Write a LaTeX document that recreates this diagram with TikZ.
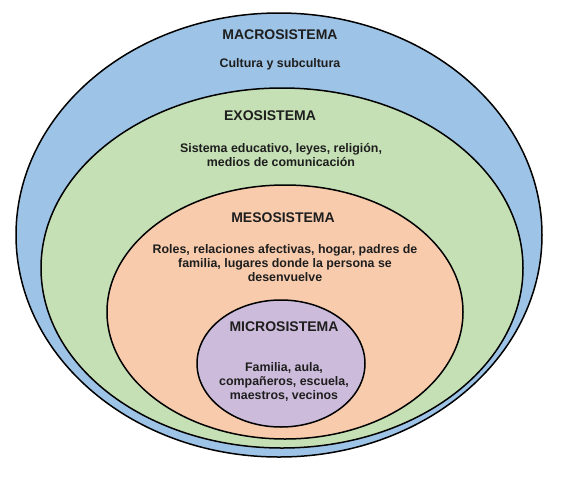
\documentclass[tikz,border=0pt]{standalone}
\usepackage{fontspec}
\setmainfont{Liberation Sans}
\usetikzlibrary{shapes,positioning}
\definecolor{macroAzul}{RGB}{157,195,230}
\definecolor{exoVerde}{RGB}{197,224,180}
\definecolor{mesoNaranja}{RGB}{248,203,173}
\definecolor{microMorado}{RGB}{204,187,218}
\definecolor{textoGris}{RGB}{30,30,30}
\tikzstyle{sistema} = [ellipse, draw=black, line width=1.5pt, inner sep=0pt]
\tikzstyle{titulo} = [font=\fontsize{14}{16}\selectfont\bfseries,
    text=textoGris, inner sep=0pt]
\tikzstyle{descripcion} = [font=\fontsize{12.4}{14}\selectfont\bfseries,
    text=textoGris, align=center, inner sep=0pt]

\begin{document}
\begin{tikzpicture}[x=1pt, y=-1pt]
    \useasboundingbox (0,0) rectangle (573,480);

    \node[sistema, fill=macroAzul, minimum width=526pt, minimum height=444pt] (macro) at (279,235) {};
    \node[sistema, fill=exoVerde, minimum width=482pt, minimum height=360pt] (exo) at (282,268) {};
    \node[sistema, fill=mesoNaranja, minimum width=356pt, minimum height=254pt] (meso) at (285,312) {};
    \node[sistema, fill=microMorado, minimum width=168pt, minimum height=127pt] (micro) at (281,363.5) {};

    \node[titulo] (macroTitulo) at (280,35) {MACROSISTEMA};
    \node[descripcion, below=18pt of macroTitulo] (macroTexto) {Cultura y subcultura};

    \node[titulo] (exoTitulo) at (270,116) {EXOSISTEMA};
    \node[descripcion, below=22pt of exoTitulo, xshift=11pt] (exoTexto)
        {Sistema educativo, leyes, religión,\\ medios de comunicación};

    \node[titulo] (mesoTitulo) at (283,218) {MESOSISTEMA};
    \node[descripcion, below=21pt of mesoTitulo, xshift=2pt] (mesoTexto)
        {Roles, relaciones afectivas, hogar, padres de\\ familia, lugares donde la persona se\\ desenvuelve};

    \node[titulo] (microTitulo) at (284,327) {MICROSISTEMA};
    \node[descripcion, below=30pt of microTitulo] (microTexto)
        {Familia, aula,\\ compañeros, escuela,\\ maestros, vecinos};
\end{tikzpicture}
\end{document}
